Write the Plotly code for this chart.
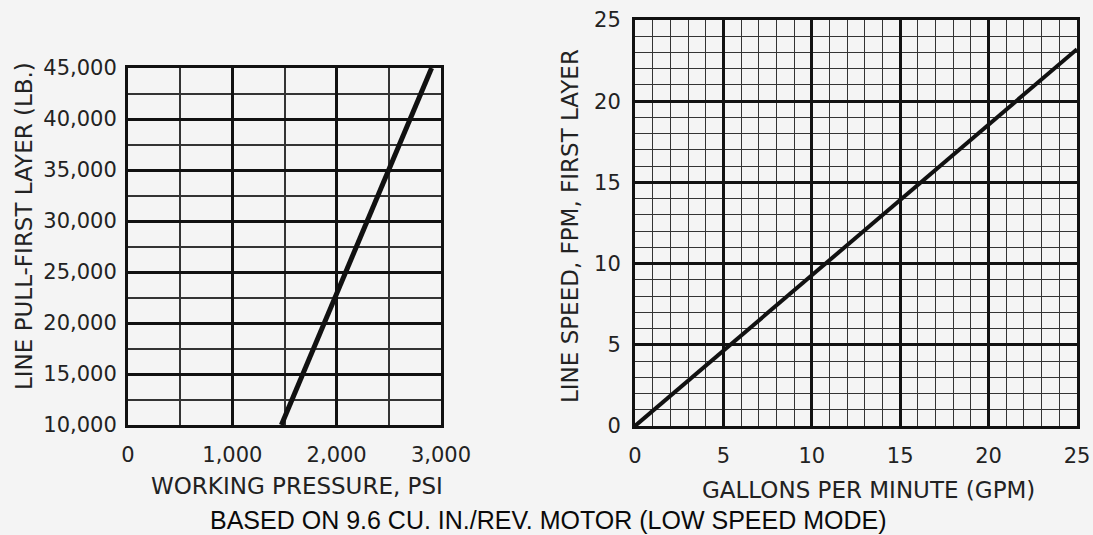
import plotly.graph_objects as go

# ---- data ----
pressure_psi = [1470, 2910]
line_pull_lb = [10000, 45000]
flow_gpm = [0, 25]
line_speed_fpm = [0, 23.2]

left_xticks = [0, 1000, 2000, 3000]
left_xlabels = ["0", "1,000", "2,000", "3,000"]
left_yticks = [10000, 15000, 20000, 25000, 30000, 35000, 40000, 45000]
left_ylabels = ["10,000", "15,000", "20,000", "25,000", "30,000", "35,000", "40,000", "45,000"]
right_ticks = [0, 5, 10, 15, 20, 25]

W, H = 1093, 535
BG = "#f4f4f4"
INK = "#111111"
TXT = "#222222"
TICKFONT = dict(family="DejaVu Sans", size=21, color=TXT)
TITLEFONT = dict(family="DejaVu Sans", size=23, color=TXT)

fig = go.Figure()
fig.add_trace(go.Scatter(x=pressure_psi, y=line_pull_lb, mode="lines",
                         line=dict(color=INK, width=5), xaxis="x", yaxis="y",
                         showlegend=False, hoverinfo="skip"))
fig.add_trace(go.Scatter(x=flow_gpm, y=line_speed_fpm, mode="lines",
                         line=dict(color=INK, width=4), xaxis="x2", yaxis="y2",
                         showlegend=False, hoverinfo="skip"))

def ax(domain, rng, tickvals, ticktext, dtick_minor, major_w, minor_w, anchor, standoff):
    return dict(domain=domain, range=rng, anchor=anchor, automargin=False,
                tickmode="array", tickvals=tickvals, ticktext=ticktext,
                showgrid=True, gridcolor=INK, gridwidth=major_w,
                minor=dict(dtick=dtick_minor, showgrid=True, gridcolor="#333333",
                           gridwidth=minor_w, ticks=""),
                showline=True, linecolor=INK, linewidth=3, mirror=True,
                ticks="", tickfont=TICKFONT, zeroline=False,
                ticklabelstandoff=standoff, fixedrange=True)

lx0, lx1 = 128 / W, 441 / W
ly0, ly1 = 1 - 425 / H, 1 - 68 / H
rx0, rx1 = 635 / W, 1077 / W
ry0, ry1 = 1 - 426 / H, 1 - 20 / H

fig.update_layout(
    width=W, height=H, autosize=False,
    margin=dict(l=0, r=0, t=0, b=0, pad=0, autoexpand=False),
    paper_bgcolor=BG, plot_bgcolor=BG,
    xaxis=ax([lx0, lx1], [0, 3000], left_xticks, left_xlabels, 500, 3, 1.5, "y", 9),
    yaxis=ax([ly0, ly1], [10000, 45000], left_yticks, left_ylabels, 2500, 3, 1.5, "x", 4),
    xaxis2=ax([rx0, rx1], [0, 25], right_ticks, [str(v) for v in right_ticks], 1, 2.5, 1, "y2", 9),
    yaxis2=ax([ry0, ry1], [0, 25], right_ticks, [str(v) for v in right_ticks], 1, 2.5, 1, "x2", 7),
    annotations=[
        dict(text="WORKING PRESSURE, PSI", xref="paper", yref="paper",
             x=297 / W, y=1 - 486 / H, showarrow=False, font=TITLEFONT,
             xanchor="center", yanchor="middle"),
        dict(text="LINE PULL-FIRST LAYER (LB.)", xref="paper", yref="paper",
             x=24 / W, y=1 - 226 / H, showarrow=False, font=TITLEFONT, textangle=-90,
             xanchor="center", yanchor="middle"),
        dict(text="GALLONS PER MINUTE (GPM)", xref="paper", yref="paper",
             x=868 / W, y=1 - 490 / H, showarrow=False, font=TITLEFONT,
             xanchor="center", yanchor="middle"),
        dict(text="LINE SPEED, FPM, FIRST LAYER", xref="paper", yref="paper",
             x=570 / W, y=1 - 226 / H, showarrow=False, font=TITLEFONT, textangle=-90,
             xanchor="center", yanchor="middle"),
        dict(text="BASED ON 9.6 CU. IN./REV. MOTOR (LOW SPEED MODE)", xref="paper", yref="paper",
             x=548 / W, y=1 - 520 / H, showarrow=False,
             font=dict(family="Liberation Sans", size=25, color="#0a0a0a"),
             xanchor="center", yanchor="middle"),
    ],
)

fig.write_html("out.html", config={"displayModeBar": False},
               post_script="document.body.style.margin='0';document.body.style.overflow='hidden';")
